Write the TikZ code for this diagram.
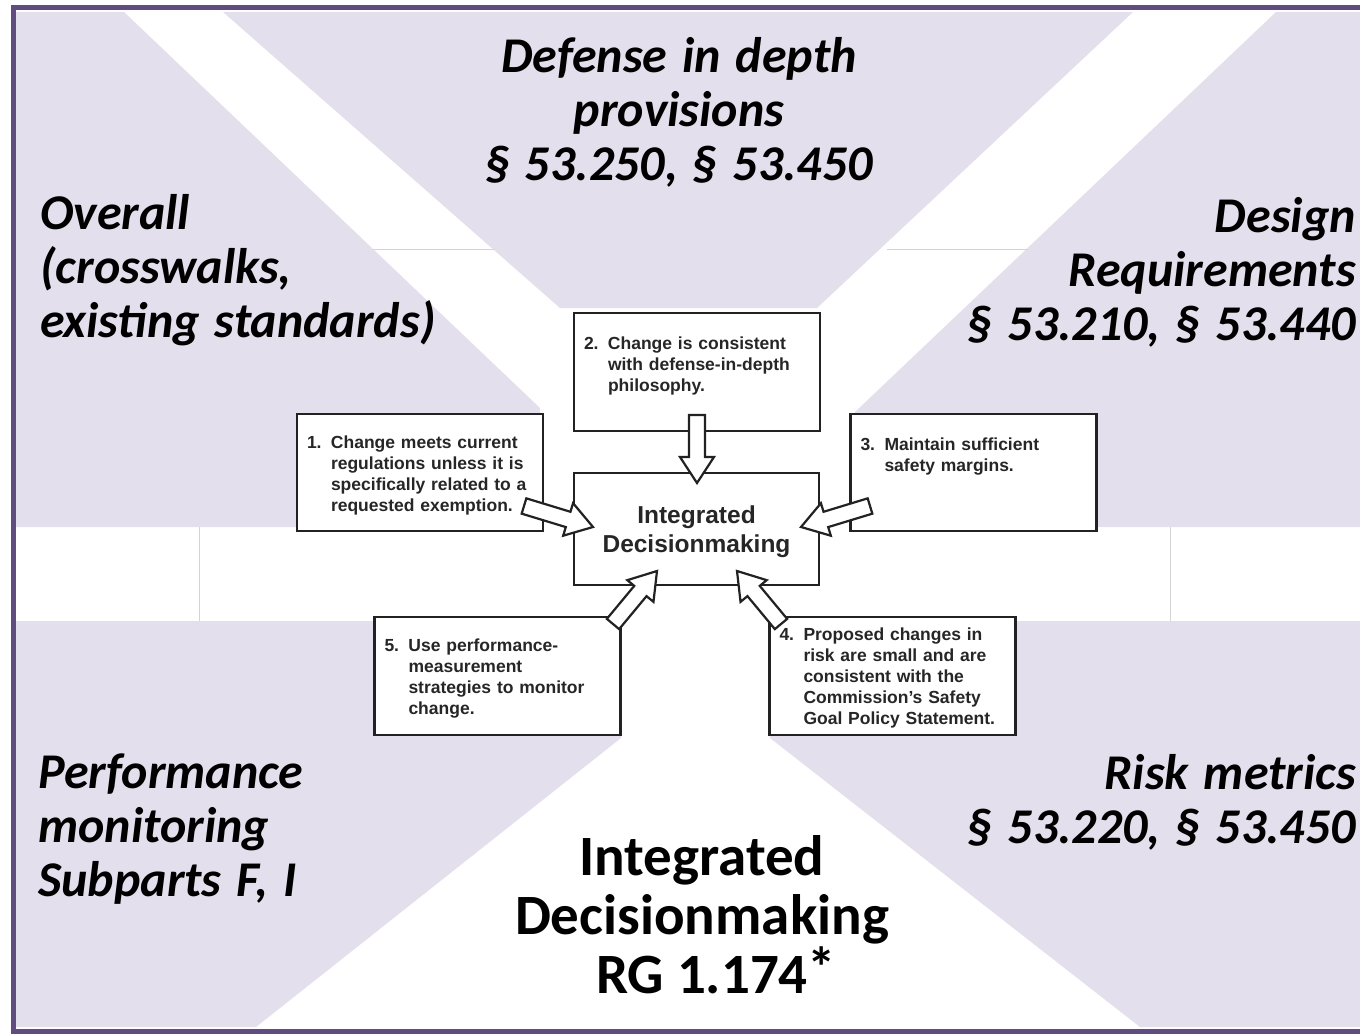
\documentclass[tikz,border=0pt]{standalone}
\usepackage{fontspec}
\setmainfont{Carlito}
\newfontfamily\arialfont{Liberation Sans}
\usetikzlibrary{calc}
\definecolor{lavender}{RGB}{228,223,236}
\definecolor{framepurple}{RGB}{96,76,126}
\definecolor{seamgray}{RGB}{212,212,212}
\definecolor{boxline}{RGB}{34,34,34}
\definecolor{boxtext}{RGB}{38,38,38}
\newcommand{\blockarrow}[2]{%
  \coordinate (bh) at ($(#2)!26pt!(#1)$);
  \filldraw[barrow] ($(#1)!8pt!90:(#2)$) -- ($(bh)!8pt!90:(#2)$) -- ($(bh)!17pt!90:(#2)$)
    -- (#2) -- ($(bh)!17pt!-90:(#2)$) -- ($(bh)!8pt!-90:(#2)$) -- ($(#1)!8pt!-90:(#2)$) -- cycle;}
\newcommand{\steplist}[3]{\noindent\raisebox{#1}[\height][\depth]{\begin{tabular}{@{}p{24pt}@{}l@{}}#2 & #3\end{tabular}}}
\newcommand{\wordgap}{\spaceskip=0.3em\relax}
\begin{document}
\begin{tikzpicture}[x=1pt,y=-1pt,
    seam/.style={draw=seamgray,line width=0.8pt},
    biglabel/.style={font=\fontsize{50}{54}\selectfont\bfseries\itshape\wordgap,inner sep=0pt},
    rulebox/.style={draw=boxline,line width=2.3pt,fill=white,text=boxtext,inner xsep=10pt,inner ysep=0pt,
      text width=226pt,minimum height=117pt,font=\arialfont\fontsize{17.5}{21}\selectfont\bfseries},
    barrow/.style={draw=boxline,line width=2.2pt,fill=white,line join=miter}]
  \useasboundingbox (0,0) rectangle (1360,1034);
  \fill[white] (0,0) rectangle (1360,1034);
  \fill[lavender] (16,12) -- (124,12) -- (540,408) -- (540,527) -- (16,527) -- cycle;
  \fill[lavender] (223,12) -- (1133,12) -- (817,308) -- (560,308) -- cycle;
  \fill[lavender] (1276,12) -- (1360,12) -- (1360,527) -- (855,527) -- (855,412) -- cycle;
  \fill[lavender] (16,621) -- (621,621) -- (621,738) -- (256,1027) -- (16,1027) -- cycle;
  \fill[lavender] (770,621) -- (1360,621) -- (1360,1027) -- (1140,1027) -- (770,738) -- cycle;
  \draw[seam] (373,249) -- (494,249);
  \draw[seam] (887,249) -- (1028,249);
  \draw[seam] (199,527) -- (199,621);
  \draw[seam] (1170,527) -- (1170,621);
  \draw[framepurple,line width=5pt] (1365,7) -- (13,7) -- (13,1031) -- (1365,1031);

  \node[biglabel,align=center,anchor=north] (defense) at (679,37)
    {Defense in depth\\provisions\\§ 53.250, § 53.450};
  \node[biglabel,align=left,anchor=north west] (overall) at (40,194)
    {Overall\\(crosswalks,\\existing standards)};
  \node[biglabel,align=right,anchor=north east] (design) at (1356,197)
    {Design\\Requirements\\§ 53.210, § 53.440};
  \node[biglabel,align=left,anchor=north west] (perf) at (38,754)
    {Performance\\monitoring\\Subparts F, I};
  \node[biglabel,align=right,anchor=north east] (risk) at (1356,754)
    {Risk metrics\\§ 53.220, § 53.450};
  \node[inner sep=0pt,align=center,anchor=north,font=\fontsize{57}{59}\selectfont\bfseries] (rg) at (702,835)
    {Integrated\\Decisionmaking\\RG 1.174\rlap{\raisebox{6pt}{*}}};

  \node[rulebox] (r1) at (420,472.5) {\steplist{-3pt}{1.}{Change meets current\\ & regulations unless it is\\
    & specifically related to a\\ & requested exemption.}};
  \node[rulebox,minimum height=118pt] (r2) at (697,372) {\steplist{-5pt}{2.}{Change is consistent\\
    & with defense-in-depth\\ & philosophy.\\ &}};
  \node[rulebox] (r3) at (973.5,472.5) {\steplist{-5pt}{3.}{Maintain sufficient\\ & safety margins.\\ & \\ &}};
  \node[rulebox,minimum height=118pt] (r4) at (892.5,676) {\steplist{-2.5pt}{4.}{Proposed changes in\\
    & risk are small and are\\ & consistent with the\\ & Commission’s Safety\\ & Goal Policy Statement.}};
  \node[rulebox,minimum height=118pt] (r5) at (497.5,676) {\steplist{-3pt}{5.}{Use performance-\\
    & measurement\\ & strategies to monitor\\ & change.}};
  \node[draw=boxline,line width=2.3pt,fill=white,text=boxtext,minimum width=245pt,minimum height=112pt,
    font=\arialfont\fontsize{24.5}{29}\selectfont\bfseries] (idm) at (696.5,529)
    {\raisebox{-3pt}[\height][\depth]{\begin{tabular}{@{}c@{}}Integrated\\Decisionmaking\end{tabular}}};

  \coordinate (a2s) at (697,415);
  \coordinate (a2e) at (697,483);
  \coordinate (a1s) at (524,506);
  \coordinate (a1e) at (593,527);
  \coordinate (a3s) at (870,506);
  \coordinate (a3e) at (801,527);
  \coordinate (a5s) at (613,624);
  \coordinate (a5e) at (657,571);
  \coordinate (a4s) at (781,624);
  \coordinate (a4e) at (737,571);
  \foreach \s/\e in {a1s/a1e,a2s/a2e,a3s/a3e,a4s/a4e,a5s/a5e}
    \blockarrow{\s}{\e};
\end{tikzpicture}
\end{document}
